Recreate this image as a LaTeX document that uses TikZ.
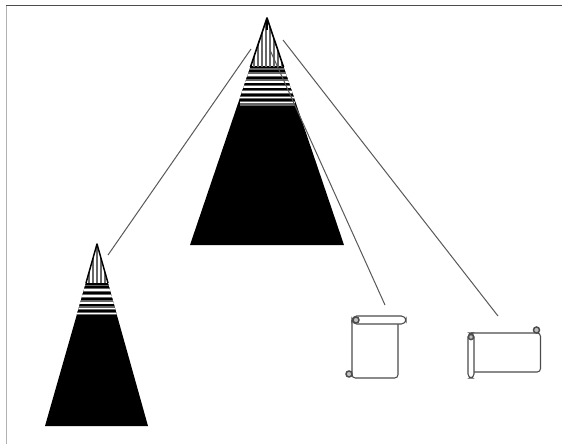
\documentclass[tikz,border=0pt]{standalone}
\begin{document}
\begin{tikzpicture}[x=0.75pt,y=-0.75pt,
  conn/.style={line width=0.75pt,draw=black!65},
  paper/.style={line width=0.8pt,draw=black!70,fill=white,rounded corners=2.5pt},
  curl/.style={line width=1.1pt,draw=black!70,fill=black!25},
  band/.style={draw=white,line width=0.8pt},
  gband/.style={draw=black!45,line width=1pt},
  vband/.style={draw=black!60,line width=1pt}]
\useasboundingbox (0,0) rectangle (562,444);
\fill[white] (0,0) rectangle (562,444);
\draw[black!70,line width=0.9pt] (6,5.5) -- (562,5.5);
\draw[black!30,line width=1.1pt] (6.5,5.5) -- (6.5,444);
% big pyramid
\coordinate (bigL) at (251,49);
\coordinate (bigM) at (270,50);
\coordinate (bigR) at (283,40);
\coordinate (leftEnd) at (108,255);
\coordinate (s1End) at (385,305);
\coordinate (s2End) at (498,316);
\fill[black] (267,18) -- (344,245) -- (190,245) -- cycle;
\begin{scope}
\clip (267,18) -- (344,245) -- (190,245) -- cycle;
\fill[white] (248,21) rectangle (286,66);
\foreach \x in {254,258,262,266,270,274,278,282} \draw[vband] (\x,18) -- (\x,67);
\draw[black,line width=1.2pt] (267,18) -- (267,30);
\fill[black!60] (240,68) rectangle (295,106);
\draw[black,line width=1pt] (240,67.5) -- (295,67.5);
\foreach \y/\w in {71/1.5,78/1.8,84/1.2,89/1.5,95/1.8,100/1.4}
  \draw[black,line width=\w pt] (240,\y) -- (295,\y);
\foreach \y in {75,82,87,92,97.5,102.5}
  \draw[band] (240,\y) -- (295,\y);
\end{scope}
\draw[black,line width=1.2pt,line join=round] (250.5,67) -- (267,18) -- (283.5,67);
% small pyramid
\fill[black] (97,244) -- (148,426) -- (45,426) -- cycle;
\begin{scope}
\clip (97,244) -- (148,426) -- (45,426) -- cycle;
\fill[white] (80,247) rectangle (114,283);
\foreach \x in {89,93,97,101,105} \draw[vband] (\x,244) -- (\x,284);
\fill[black!60] (70,284) rectangle (125,315);
\draw[black,line width=1pt] (70,284) -- (125,284);
\foreach \y/\w in {287/1.2,293/1.8,299/1.4,305/1.8,311/1.2}
  \draw[black,line width=\w pt] (70,\y) -- (125,\y);
\foreach \y in {290,296,303,308.5,313.5}
  \draw[band] (70,\y) -- (125,\y);
\end{scope}
\draw[black,line width=1.1pt,line join=round] (86,283) -- (97,244) -- (108,283);
% connectors
\draw[conn] (bigL) -- (leftEnd);
\draw[conn] (bigM) -- (s1End);
\draw[conn] (bigR) -- (s2End);
% scroll 1
\draw[paper] (352,320) -- (352,378) -- (398,378) -- (398,320);
\draw[paper,rounded corners=3.5pt] (352,316) rectangle (406,324);
\draw[curl] (349,374) circle (3);
\draw[curl] (356,320) circle (3);
% scroll 2
\draw[paper] (471,333) -- (540.5,333) -- (540.5,372) -- (471,372);
\draw[paper,rounded corners=3pt] (468,333) rectangle (474,378);
\draw[curl] (536.5,330) circle (3);
\draw[curl] (471,337) circle (2.6);
\end{tikzpicture}
\end{document}
